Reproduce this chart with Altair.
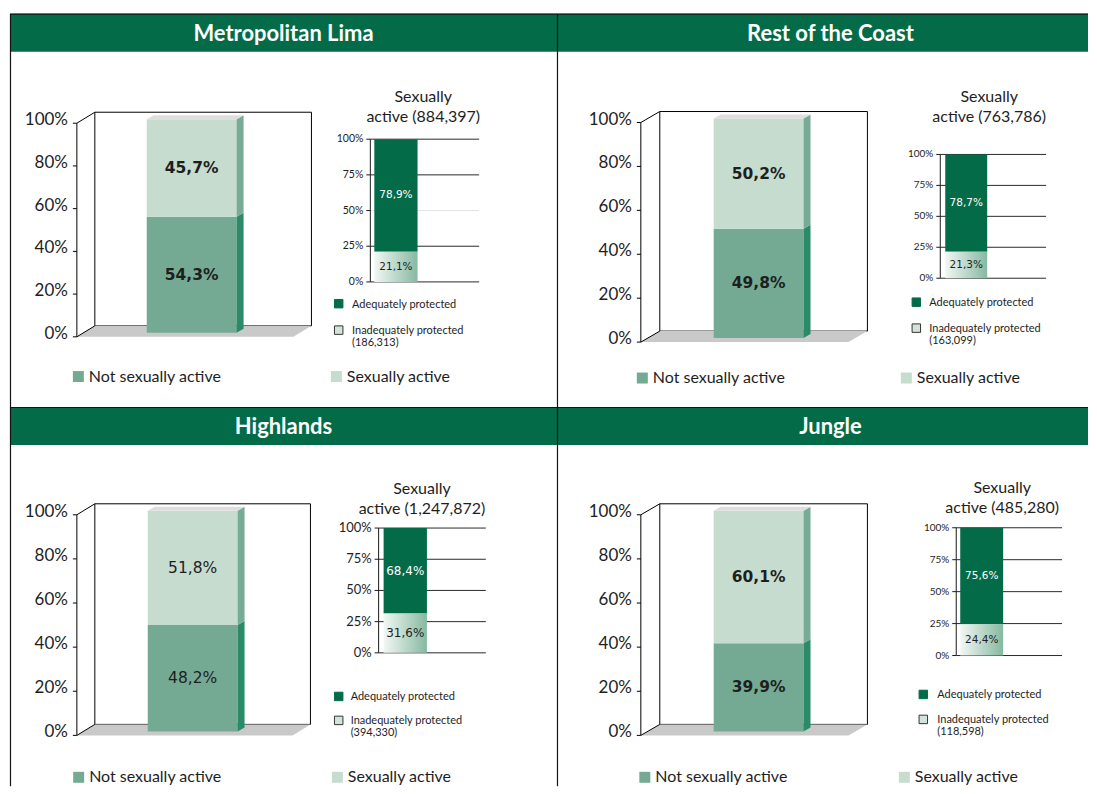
import altair as alt
import pandas as pd

# ---------------- data ----------------
regions = ["Metropolitan Lima", "Rest of the Coast", "Highlands", "Jungle"]
not_active_pct = [54.3, 49.8, 48.2, 39.9]
active_pct = [45.7, 50.2, 51.8, 60.1]
active_total = ["884,397", "763,786", "1,247,872", "485,280"]
adequate_pct = [78.9, 78.7, 68.4, 75.6]
inadequate_pct = [21.1, 21.3, 31.6, 24.4]
inadequate_total = ["186,313", "163,099", "394,330", "118,598"]
big_series = ["Not sexually active", "Sexually active"]
small_series = ["Adequately protected", "Inadequately protected"]
big_ticks = [0, 20, 40, 60, 80, 100]
small_ticks = [0, 25, 50, 75, 100]

# ---------------- styles ----------------
FONT = "Lato"
NUMFONT = "DejaVu Sans"
GREEN = "#046B48"
TEXT = "#1E1E1E"
BIG_FILL = {"Not sexually active": "#74AA93", "Sexually active": "#C6DCCF"}
BIG_SIDE = {"Not sexually active": "#2B8A68", "Sexually active": "#77AB95"}
TOP_FACE = "#DEDEDE"
FLOOR = "#C9C9C9"
ADEQ = "#046B48"
GRID = "#2A2A2A"
GRID_FAINT = "#E4E4E4"
INAD_GRAD = alt.Gradient(gradient="linear",
                         stops=[alt.GradientStop(color="#F2F7F4", offset=0),
                                alt.GradientStop(color="#86B9A1", offset=1)],
                         x1=0, x2=1, y1=0, y2=0)
TITLE_H = 38

# ---------------- layout (panel-local pixels) ----------------
LAYOUT = [
    dict(W=548, H=394, fx0=67, fx1=284, y0=323.7, y100=109.7, dx=18, dy=-11,
         bx0=137, bx1=227, sw=7, sdy=-4, bdy=-4, blf=15.5, blw="bold",
         lx0=68.5, lx1=327, ly=363.5, ldx=10.5, faint=[50],
         sax=361, sgx=470, sy0=268.7, sy100=125.7, sbx0=365, sbx1=408.3,
         stf=10.5, slf=10.5, tcx=414, ty=88, slx=329.3, sly0=290.5, sly1=317, sldx=13.4),
    dict(W=532, H=394, fx0=84, fx1=292, y0=329, y100=109, dx=19, dy=-11,
         bx0=157, bx1=247, sw=7, sdy=-4, bdy=-4, blf=15.5, blw="bold",
         lx0=85.5, lx1=350, ly=365, ldx=10.5, faint=[],
         sax=384, sgx=490, sy0=265, sy100=141, sbx0=389, sbx1=431,
         stf=10, slf=10.5, tcx=433, ty=88, slx=360, sly0=289, sly1=315, sldx=13),
    dict(W=548, H=380, fx0=67, fx1=283, y0=329, y100=108, dx=18, dy=-11,
         bx0=138, bx1=228, sw=7, sdy=-4, bdy=-4, blf=15.5, blw="normal",
         lx0=68.8, lx1=328, ly=371, ldx=10.5, faint=[],
         sax=369.3, sgx=476.7, sy0=246.3, sy100=121.3, sbx0=374.3, sbx1=417.7,
         stf=13, slf=12, tcx=412.7, ty=87, slx=329.3, sly0=290, sly1=314, sldx=12),
    dict(W=532, H=380, fx0=84, fx1=292, y0=329, y100=108, dx=19, dy=-11,
         bx0=157, bx1=247, sw=7, sdy=-4, bdy=-4, blf=15.5, blw="bold",
         lx0=88, lx1=348, ly=371, ldx=10.5, faint=[],
         sax=400, sgx=506, sy0=249, sy100=121, sbx0=404, sbx1=447,
         stf=10, slf=10.5, tcx=446, ty=86, slx=367, sly0=288, sly1=313, sldx=14),
]


def fmt(v):
    return f"{v:.1f}".replace(".", ",") + "%"


def axis_layers(ticks, yscale, ax, tick_len, pad, font_size, dy, color):
    """Axis drawn from the scale: domain line, tick marks, tick labels."""
    tdf = pd.DataFrame({"v": ticks, "label": [f"{t}%" for t in ticks]})
    ddf = pd.DataFrame({"v": [ticks[0]], "v2": [ticks[-1]]})
    domain = alt.Chart(ddf).mark_rule(color=color, strokeWidth=1).encode(
        x=alt.value(ax), y=alt.Y("v:Q", scale=yscale, axis=None), y2="v2:Q")
    tks = alt.Chart(tdf).mark_rule(color=color, strokeWidth=1).encode(
        x=alt.value(ax - tick_len), x2=alt.value(ax),
        y=alt.Y("v:Q", scale=yscale, axis=None))
    labels = alt.Chart(tdf).mark_text(font=FONT, fontSize=font_size, color=TEXT,
                                      align="right", baseline="middle", dy=dy).encode(
        x=alt.value(ax - tick_len - pad), y=alt.Y("v:Q", scale=yscale, axis=None),
        text="label:N")
    return [domain, tks, labels]


def make_panel(i):
    L = LAYOUT[i]
    W, H = L["W"], L["H"]
    one = pd.DataFrame({"region": [regions[i]],
                        "stitle": [f"Sexually\nactive ({active_total[i]})"]})

    # ---- frame: title bar, title, top/left border, small-chart title ----
    frame = alt.layer(
        alt.Chart(one).mark_rect(color=GREEN).encode(
            x=alt.value(0), x2=alt.value(W), y=alt.value(0), y2=alt.value(TITLE_H)),
        alt.Chart(one).mark_text(font=FONT, fontSize=22, fontWeight="bold", color="white",
                                 align="center", baseline="middle").encode(
            x=alt.value(W / 2 if W > 540 else 274), y=alt.value(TITLE_H / 2 + 1), text="region:N"),
        alt.Chart(one).mark_rule(color="#141414", strokeWidth=1.2).encode(
            x=alt.value(0.5), x2=alt.value(W), y=alt.value(0.5), y2=alt.value(0.5)),
        alt.Chart(one).mark_rule(color="#141414", strokeWidth=1.2).encode(
            x=alt.value(0.5), x2=alt.value(0.5), y=alt.value(0), y2=alt.value(H)),
        alt.Chart(one).mark_text(font=FONT, fontSize=16, color=TEXT, align="center",
                                 baseline="alphabetic", lineBreak="\n", lineHeight=20).encode(
            x=alt.value(L["tcx"]), y=alt.value(L["ty"]), text="stitle:N"),
    )

    # ---- big 3D stacked bar ----
    ky = (L["y0"] - L["y100"]) / 100.0
    kx = float(L["fx1"] - L["fx0"])
    dxu = L["dx"] / kx
    dyu = -L["dy"] / ky
    xb = alt.Scale(domain=[0, 1], range=[L["fx0"], L["fx1"]], nice=False, zero=False)
    yb = alt.Scale(domain=[0, 100], range=[L["y0"], L["y100"]], nice=False, zero=False)

    floor_df = pd.DataFrame({"y": [0, dyu], "x": [0, dxu], "x2": [1, 1 + dxu]})
    floor = alt.Chart(floor_df).mark_area(orient="horizontal", color=FLOOR).encode(
        y=alt.Y("y:Q", scale=yb, axis=None, stack=None),
        x=alt.X("x:Q", scale=xb, axis=None), x2="x2:Q")
    wall_df = pd.DataFrame({"x": [dxu], "x2": [1 + dxu], "y": [dyu], "y2": [100 + dyu]})
    wall = alt.Chart(wall_df).mark_rect(fill="white", stroke="#000", strokeWidth=1).encode(
        x=alt.X("x:Q", scale=xb, axis=None), x2="x2:Q",
        y=alt.Y("y:Q", scale=yb, axis=None), y2="y2:Q")
    diag_df = pd.DataFrame({"x": [0, 0], "x2": [dxu, dxu], "y": [0, 100], "y2": [dyu, 100 + dyu]})
    diags = alt.Chart(diag_df).mark_rule(color="#000", strokeWidth=1).encode(
        x=alt.X("x:Q", scale=xb, axis=None), x2="x2:Q",
        y=alt.Y("y:Q", scale=yb, axis=None), y2="y2:Q")

    bdu = -L["bdy"] / ky
    sdu = -L["sdy"] / ky
    swu = L["sw"] / kx
    bx0 = (L["bx0"] - L["fx0"]) / kx
    bx1 = (L["bx1"] - L["fx0"]) / kx
    vals = [not_active_pct[i], active_pct[i]]
    starts = [0.0, vals[0]]
    ends = [vals[0], vals[0] + vals[1]]
    bar_df = pd.DataFrame({
        "series": big_series,
        "fill": [BIG_FILL[s] for s in big_series],
        "y": [s + bdu for s in starts], "y2": [e + bdu for e in ends],
        "x": [bx0] * 2, "x2": [bx1] * 2,
        "xm": [(bx0 + bx1) / 2] * 2,
        "ym": [(s + e) / 2 + bdu for s, e in zip(starts, ends)],
        "label": [fmt(v) for v in vals],
    })
    front = alt.Chart(bar_df).mark_rect().encode(
        x=alt.X("x:Q", scale=xb, axis=None), x2="x2:Q",
        y=alt.Y("y:Q", scale=yb, axis=None), y2="y2:Q",
        color=alt.Color("fill:N", scale=None))
    side_rows = []
    for s, st, en in zip(big_series, starts, ends):
        side_rows.append({"series": s, "fill": BIG_SIDE[s], "x": bx1,
                          "y": en + bdu, "y2": st + bdu})
        side_rows.append({"series": s, "fill": BIG_SIDE[s], "x": bx1 + swu,
                          "y": en + bdu + sdu, "y2": st + bdu + sdu})
    side = alt.Chart(pd.DataFrame(side_rows)).mark_area(orient="vertical").encode(
        x=alt.X("x:Q", scale=xb, axis=None),
        y=alt.Y("y:Q", scale=yb, axis=None, stack=None), y2="y2:Q",
        color=alt.Color("fill:N", scale=None), detail="series:N")
    top_df = pd.DataFrame({"y": [ends[-1] + bdu, ends[-1] + bdu + sdu],
                           "x": [bx0, bx0 + swu], "x2": [bx1, bx1 + swu]})
    top = alt.Chart(top_df).mark_area(orient="horizontal", color=TOP_FACE).encode(
        y=alt.Y("y:Q", scale=yb, axis=None, stack=None),
        x=alt.X("x:Q", scale=xb, axis=None), x2="x2:Q")
    big_labels = alt.Chart(bar_df).mark_text(font=NUMFONT, fontSize=L["blf"], fontWeight=L["blw"],
                                             color=TEXT, align="center", baseline="middle").encode(
        x=alt.X("xm:Q", scale=xb, axis=None),
        y=alt.Y("ym:Q", scale=yb, axis=None), text="label:N")
    big_axis = axis_layers(big_ticks, yb, L["fx0"], 4, 5, 17, -3, "#000")
    big = alt.layer(wall, floor, diags, front, side, top, big_labels, *big_axis)

    # ---- big legend ----
    bl_df = pd.DataFrame({"series": big_series, "fill": [BIG_FILL[s] for s in big_series]})
    xl = alt.Scale(type="point", domain=big_series, range=[L["lx0"], L["lx1"]], padding=0)
    big_legend = alt.layer(
        alt.Chart(bl_df).mark_square(size=121, opacity=1).encode(
            x=alt.X("series:N", scale=xl, axis=None), y=alt.value(L["ly"]),
            color=alt.Color("fill:N", scale=None)),
        alt.Chart(bl_df).mark_text(font=FONT, fontSize=16, color=TEXT, align="left",
                                   baseline="middle", dx=L["ldx"]).encode(
            x=alt.X("series:N", scale=xl, axis=None), y=alt.value(L["ly"]),
            text="series:N"),
    )

    # ---- small stacked bar ----
    xs = alt.Scale(domain=[0, 1], range=[L["sax"], L["sgx"]], nice=False, zero=False)
    ys = alt.Scale(domain=[0, 100], range=[L["sy0"], L["sy100"]], nice=False, zero=False)
    grid_df = pd.DataFrame({"y": small_ticks,
                            "gc": [GRID_FAINT if t in L["faint"] else GRID for t in small_ticks]})
    grid = alt.Chart(grid_df).mark_rule(strokeWidth=1).encode(
        x=alt.value(L["sax"]), x2=alt.value(L["sgx"]),
        y=alt.Y("y:Q", scale=ys, axis=None),
        color=alt.Color("gc:N", scale=None))
    kxs = float(L["sgx"] - L["sax"])
    sb0 = (L["sbx0"] - L["sax"]) / kxs
    sb1 = (L["sbx1"] - L["sax"]) / kxs
    inad, adeq = inadequate_pct[i], adequate_pct[i]
    adeq_df = pd.DataFrame({"x": [sb0], "x2": [sb1], "y": [inad], "y2": [inad + adeq],
                            "xm": [(sb0 + sb1) / 2], "ym": [inad + adeq / 2], "label": [fmt(adeq)]})
    inad_df = pd.DataFrame({"x": [sb0], "x2": [sb1], "y": [0.0], "y2": [inad],
                            "xm": [(sb0 + sb1) / 2], "ym": [inad / 2], "label": [fmt(inad)]})
    enc_rect = dict(x=alt.X("x:Q", scale=xs, axis=None), x2="x2:Q",
                    y=alt.Y("y:Q", scale=ys, axis=None), y2="y2:Q")
    enc_text = dict(x=alt.X("xm:Q", scale=xs, axis=None),
                    y=alt.Y("ym:Q", scale=ys, axis=None), text="label:N")
    small_axis = axis_layers(small_ticks, ys, L["sax"], 4, 3, L["stf"], 0, "#1A1A1A")
    small = alt.layer(
        grid,
        alt.Chart(adeq_df).mark_rect(color=ADEQ).encode(**enc_rect),
        alt.Chart(inad_df).mark_rect(color=INAD_GRAD).encode(**enc_rect),
        alt.Chart(adeq_df).mark_text(font=NUMFONT, fontSize=L["slf"], color="white",
                                     align="center", baseline="middle").encode(**enc_text),
        alt.Chart(inad_df).mark_text(font=NUMFONT, fontSize=L["slf"], color=TEXT,
                                     align="center", baseline="middle").encode(**enc_text),
        *small_axis,
    )

    # ---- small legend ----
    sl_df = pd.DataFrame({
        "series": small_series,
        "fill": [ADEQ, "#D3E3D9"],
        "stroke": [ADEQ, "#333333"],
        "label": [small_series[0], f"{small_series[1]}\n({inadequate_total[i]})"],
    })
    yl = alt.Scale(type="point", domain=small_series, range=[L["sly0"], L["sly1"]], padding=0)
    small_legend = alt.layer(
        alt.Chart(sl_df).mark_square(size=72, opacity=1, strokeWidth=1).encode(
            y=alt.Y("series:N", scale=yl, axis=None), x=alt.value(L["slx"]),
            fill=alt.Fill("fill:N", scale=None), stroke=alt.Stroke("stroke:N", scale=None)),
        alt.Chart(sl_df).mark_text(font=FONT, fontSize=11, color=TEXT, align="left",
                                   baseline="alphabetic", dx=L["sldx"], dy=4,
                                   lineBreak="\n", lineHeight=12).encode(
            y=alt.Y("series:N", scale=yl, axis=None), x=alt.value(L["slx"]),
            text="label:N"),
    )

    return alt.layer(frame, big, big_legend, small, small_legend).resolve_scale(
        x="independent", y="independent").properties(width=W, height=H)


panels = [make_panel(i) for i in range(4)]
chart = alt.concat(*panels, columns=2, spacing=0, bounds="flush").properties(
    padding={"left": 1, "top": 4, "right": 0, "bottom": 0},
    background="white",
).configure_view(stroke=None)

chart.save("out.html", embed_options={"renderer": "svg", "actions": False})
